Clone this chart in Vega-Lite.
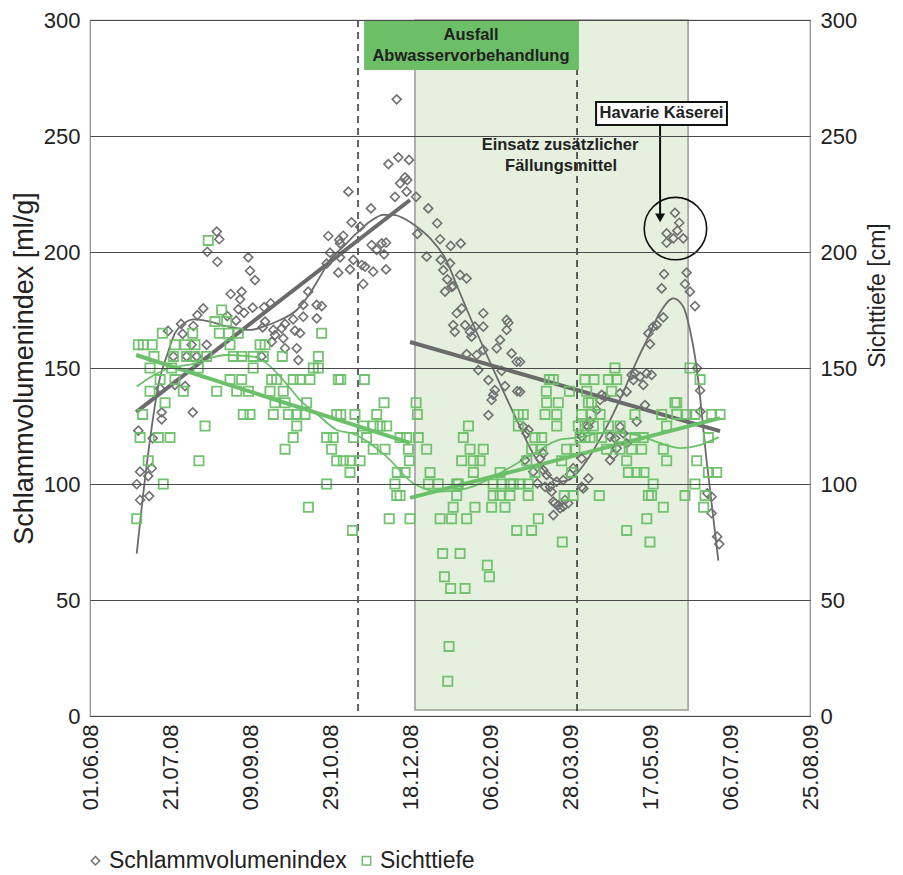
{
  "$schema": "https://vega.github.io/schema/vega-lite/v6.json",
  "width": 720,
  "height": 696,
  "autosize": "none",
  "padding": {"left": 90, "top": 20, "right": 93, "bottom": 159},
  "background": "white",
  "config": {
    "font": "Liberation Sans",
    "view": {"stroke": "#8a8a8a", "strokeWidth": 1.2},
    "axis": {"labelColor": "#222", "titleColor": "#222", "labelFontSize": 22, "titleFontSize": 23, "titleFontWeight": "normal", "ticks": false, "domain": false}
  },
  "datasets": {
    "svi": [
      {"d":29.2,"v":99.9},{"d":30.2,"v":123},{"d":31.3,"v":105.3},{"d":31.3,"v":93.1},{"d":36.4,"v":103.4},{"d":37,"v":94.8},{"d":38.6,"v":106.8},{"d":39.2,"v":119.7},{"d":43.8,"v":141.2},{"d":44.8,"v":130.9},{"d":44.8,"v":127.9},{"d":48.8,"v":166},{"d":52.1,"v":155},{"d":53.1,"v":142.7},{"d":56.9,"v":169},{"d":57.9,"v":164.7},{"d":59.4,"v":142.2},{"d":60.4,"v":155},{"d":63.5,"v":160},{"d":64.2,"v":130.9},{"d":64.6,"v":168.1},{"d":66.7,"v":155},{"d":67.1,"v":172.8},{"d":70.8,"v":175.7},{"d":72.9,"v":160},{"d":73.3,"v":200.1},{"d":79.2,"v":208.8},{"d":79.6,"v":195.8},{"d":80.8,"v":205.5},{"d":85.8,"v":172.4},{"d":87.9,"v":181.9},{"d":91.3,"v":170.4},{"d":92.7,"v":175.3},{"d":93.8,"v":179.6},{"d":94.8,"v":182.9},{"d":96.3,"v":173.8},{"d":98.9,"v":197.7},{"d":100,"v":191.9},{"d":101.7,"v":176},{"d":103.1,"v":187.9},{"d":107.3,"v":155},{"d":107.9,"v":167.5},{"d":108.8,"v":176.2},{"d":109.4,"v":170},{"d":112.9,"v":177.9},{"d":113.6,"v":161.3},{"d":114.6,"v":166.4},{"d":115.6,"v":164.2},{"d":119.8,"v":167.1},{"d":120.8,"v":162.8},{"d":121.9,"v":169},{"d":121.9,"v":158.5},{"d":127,"v":171},{"d":128.1,"v":166.1},{"d":129.2,"v":158.5},{"d":130.2,"v":153.4},{"d":131.3,"v":165},{"d":133.3,"v":177.2},{"d":133.3,"v":172.1},{"d":136.4,"v":182.9},{"d":141.7,"v":177.2},{"d":141.7,"v":171.4},{"d":144.8,"v":176.7},{"d":147.9,"v":195},{"d":148.9,"v":206.9},{"d":150,"v":199.7},{"d":155.2,"v":191.1},{"d":155.8,"v":205.2},{"d":156.3,"v":203.7},{"d":156.3,"v":197.7},{"d":158.3,"v":207},{"d":161.5,"v":226},{"d":162.5,"v":192.5},{"d":163.5,"v":212.8},{"d":164.6,"v":196.6},{"d":168.8,"v":210.9},{"d":169.8,"v":194.4},{"d":170.8,"v":186.2},{"d":171.9,"v":193.7},{"d":175.6,"v":218.8},{"d":176,"v":203},{"d":177,"v":191.5},{"d":179.2,"v":200.9},{"d":182.3,"v":203.7},{"d":183.8,"v":199},{"d":185,"v":204},{"d":185,"v":192.5},{"d":186.5,"v":237.9},{"d":190.6,"v":223.8},{"d":191.7,"v":265.8},{"d":192.7,"v":240.8},{"d":193.8,"v":229.6},{"d":196.9,"v":232.2},{"d":197.9,"v":226},{"d":198.3,"v":231},{"d":199.4,"v":239.7},{"d":203.8,"v":223.8},{"d":204.6,"v":207.8},{"d":210.4,"v":198},{"d":211.4,"v":218.8},{"d":217,"v":212.4},{"d":218.8,"v":205.5},{"d":219.2,"v":196.6},{"d":220.8,"v":192.2},{"d":221.9,"v":182.9},{"d":223.3,"v":188.2},{"d":225,"v":195.1},{"d":225.4,"v":202.6},{"d":226,"v":185},{"d":227,"v":185.3},{"d":227,"v":168.5},{"d":228,"v":165.6},{"d":229.2,"v":173.6},{"d":231.3,"v":190.1},{"d":231.7,"v":203.7},{"d":232.3,"v":175.7},{"d":234.4,"v":168.5},{"d":235.4,"v":188.6},{"d":235.4,"v":156},{"d":237.5,"v":165.6},{"d":238.5,"v":163.5},{"d":240.6,"v":167.8},{"d":241.7,"v":155.6},{"d":242.7,"v":149.1},{"d":245.8,"v":173.6},{"d":245.8,"v":167.8},{"d":245.8,"v":157.8},{"d":249,"v":144.8},{"d":249,"v":129.7},{"d":251,"v":136.2},{"d":252,"v":138.4},{"d":253,"v":140.5},{"d":254.2,"v":158.5},{"d":256.3,"v":162.1},{"d":257.3,"v":148.8},{"d":259.4,"v":142.2},{"d":260.4,"v":170.7},{"d":261.5,"v":169.5},{"d":260.4,"v":166.4},{"d":263.5,"v":156.3},{"d":266.7,"v":152.7},{"d":267,"v":140},{"d":268.8,"v":139.8},{"d":268.8,"v":152.7},{"d":270.8,"v":124.7},{"d":271.9,"v":110.3},{"d":272.9,"v":121.8},{"d":274,"v":123.3},{"d":277,"v":105.3},{"d":279.6,"v":100.3},{"d":281.3,"v":111},{"d":283.3,"v":113.2},{"d":283.3,"v":106},{"d":284.4,"v":98.8},{"d":285.4,"v":103.9},{"d":287.5,"v":98.8},{"d":288.5,"v":96.7},{"d":289.6,"v":92.4},{"d":289.6,"v":86.6},{"d":290.6,"v":91.7},{"d":291.7,"v":101},{"d":292.7,"v":90.9},{"d":293.8,"v":89.5},{"d":295.8,"v":101.7},{"d":295.8,"v":90.2},{"d":296.9,"v":93.1},{"d":298.9,"v":91.7},{"d":300,"v":104.2},{"d":302,"v":106.8},{"d":307.3,"v":111},{"d":307.3,"v":120.4},{"d":307.3,"v":98.8},{"d":308.3,"v":98.1},{"d":310.4,"v":125.4},{"d":311.5,"v":102.4},{"d":311.5,"v":124.7},{"d":312.5,"v":126.9},{"d":316.7,"v":131.9},{"d":318.8,"v":136.2},{"d":319.8,"v":138.4},{"d":321.9,"v":137.6},{"d":325,"v":110.3},{"d":325,"v":120.4},{"d":327,"v":112.5},{"d":328.1,"v":119.7},{"d":329.2,"v":115.4},{"d":331.3,"v":124.7},{"d":331.3,"v":139.1},{"d":333.3,"v":121.8},{"d":335.4,"v":117.5},{"d":335.4,"v":139.8},{"d":338.5,"v":147},{"d":339.6,"v":144.8},{"d":340.6,"v":147.7},{"d":341.7,"v":126.9},{"d":343.8,"v":146.3},{"d":345.8,"v":142.7},{"d":346.9,"v":134},{"d":347.9,"v":147.7},{"d":349,"v":164.9},{"d":350,"v":160.3},{"d":351,"v":147},{"d":352,"v":167.8},{"d":354.2,"v":168.5},{"d":357.3,"v":184.3},{"d":358.3,"v":171.8},{"d":358.8,"v":190.5},{"d":360.4,"v":208},{"d":360.4,"v":204},{"d":364.6,"v":205.9},{"d":365.6,"v":216.9},{"d":367.1,"v":209.2},{"d":368.3,"v":212.6},{"d":370.8,"v":205.9},{"d":371.9,"v":186.2},{"d":372.9,"v":191.1},{"d":375,"v":182.9},{"d":378.1,"v":176.7},{"d":379.4,"v":149.9},{"d":381.3,"v":140.3},{"d":381.5,"v":131.2},{"d":385.8,"v":96},{"d":388.5,"v":94.5},{"d":388.5,"v":87.4},{"d":392,"v":77.3},{"d":393.3,"v":74.1}
    ],
    "st": [
      {"d":29.2,"v":85},{"d":30.2,"v":160},{"d":31.3,"v":120},{"d":32.9,"v":130},{"d":33.3,"v":160},{"d":36.4,"v":110},{"d":37.5,"v":150},{"d":37.5,"v":140},{"d":38.9,"v":160},{"d":40,"v":155},{"d":42.7,"v":120},{"d":43.8,"v":145},{"d":45.2,"v":165},{"d":45.8,"v":100},{"d":46.9,"v":135},{"d":50,"v":120},{"d":51,"v":150},{"d":52.1,"v":155},{"d":53.1,"v":160},{"d":53.1,"v":145},{"d":58.3,"v":140},{"d":59.4,"v":160},{"d":60.4,"v":155},{"d":64.2,"v":165},{"d":65.6,"v":160},{"d":65.6,"v":155},{"d":67.7,"v":150},{"d":68.1,"v":110},{"d":71.9,"v":125},{"d":72.9,"v":155},{"d":73.9,"v":205},{"d":78.1,"v":170},{"d":79.2,"v":140},{"d":80.8,"v":165},{"d":82.3,"v":175},{"d":85.4,"v":170},{"d":86.5,"v":165},{"d":87.5,"v":160},{"d":87.5,"v":145},{"d":89.6,"v":155},{"d":91.7,"v":140},{"d":92.7,"v":165},{"d":94.8,"v":155},{"d":94.8,"v":145},{"d":95.8,"v":130},{"d":99,"v":140},{"d":100,"v":130},{"d":102,"v":155},{"d":102,"v":150},{"d":106.3,"v":160},{"d":108.3,"v":155},{"d":109.4,"v":160},{"d":112.5,"v":140},{"d":113.5,"v":145},{"d":114.6,"v":130},{"d":115.6,"v":135},{"d":116.7,"v":145},{"d":120.2,"v":155},{"d":120.8,"v":140},{"d":121.9,"v":135},{"d":121.9,"v":115},{"d":124,"v":130},{"d":127,"v":145},{"d":127,"v":120},{"d":129.2,"v":130},{"d":129.2,"v":125},{"d":131.3,"v":145},{"d":134.4,"v":130},{"d":135.4,"v":135},{"d":136.5,"v":90},{"d":137.5,"v":145},{"d":139.6,"v":150},{"d":142.7,"v":155},{"d":142.7,"v":150},{"d":144.8,"v":165},{"d":147.9,"v":120},{"d":147.9,"v":100},{"d":151,"v":115},{"d":152,"v":120},{"d":154.2,"v":130},{"d":154.2,"v":110},{"d":155.2,"v":145},{"d":156.7,"v":145},{"d":156.7,"v":130},{"d":158.3,"v":110},{"d":162.5,"v":110},{"d":162.5,"v":105},{"d":164.6,"v":120},{"d":164,"v":80},{"d":165.6,"v":130},{"d":168.8,"v":110},{"d":170.8,"v":125},{"d":171.5,"v":145},{"d":172.9,"v":120},{"d":177,"v":125},{"d":177,"v":115},{"d":179.2,"v":130},{"d":181.3,"v":125},{"d":183.8,"v":135},{"d":184.4,"v":115},{"d":185.4,"v":125},{"d":187,"v":85},{"d":190.6,"v":100},{"d":191.7,"v":95},{"d":192,"v":105},{"d":193.8,"v":120},{"d":193.8,"v":95},{"d":196.9,"v":105},{"d":197.9,"v":120},{"d":199,"v":115},{"d":199.6,"v":110},{"d":200,"v":85},{"d":203.8,"v":135},{"d":204.6,"v":130},{"d":205.2,"v":120},{"d":210.4,"v":115},{"d":211.5,"v":100},{"d":212.5,"v":105},{"d":217.7,"v":100},{"d":218.8,"v":85},{"d":220.4,"v":70},{"d":221.5,"v":60},{"d":223.6,"v":15},{"d":224.4,"v":30},{"d":225.4,"v":55},{"d":226,"v":85},{"d":227,"v":90},{"d":229.2,"v":100},{"d":229.2,"v":95},{"d":230.2,"v":100},{"d":231.3,"v":70},{"d":232.3,"v":110},{"d":233.3,"v":120},{"d":234.4,"v":55},{"d":235.4,"v":85},{"d":236.5,"v":125},{"d":237.5,"v":115},{"d":239.6,"v":110},{"d":239.6,"v":105},{"d":240.6,"v":90},{"d":243.8,"v":110},{"d":245.8,"v":115},{"d":248.3,"v":65},{"d":249.6,"v":60},{"d":251,"v":90},{"d":252,"v":100},{"d":252,"v":95},{"d":256.3,"v":105},{"d":256.3,"v":95},{"d":257.3,"v":100},{"d":259.4,"v":90},{"d":262.5,"v":100},{"d":262.5,"v":95},{"d":264.6,"v":100},{"d":266.7,"v":80},{"d":267.7,"v":130},{"d":267.7,"v":125},{"d":268.8,"v":100},{"d":270.8,"v":130},{"d":273,"v":110},{"d":273.9,"v":100},{"d":273.9,"v":95},{"d":276,"v":115},{"d":276,"v":80},{"d":278.1,"v":120},{"d":278.1,"v":105},{"d":280.2,"v":85},{"d":282.3,"v":120},{"d":282.3,"v":115},{"d":284.4,"v":130},{"d":285.2,"v":140},{"d":285.4,"v":135},{"d":287.1,"v":145},{"d":289.6,"v":145},{"d":291.7,"v":125},{"d":291.7,"v":130},{"d":292.7,"v":135},{"d":294.8,"v":110},{"d":295.2,"v":75},{"d":296.4,"v":95},{"d":297.9,"v":115},{"d":299.6,"v":140},{"d":301,"v":105},{"d":302,"v":95},{"d":303.1,"v":115},{"d":305.2,"v":125},{"d":306.3,"v":120},{"d":307.3,"v":130},{"d":309.4,"v":145},{"d":309.4,"v":125},{"d":309.4,"v":120},{"d":310.4,"v":140},{"d":311.5,"v":135},{"d":312.5,"v":120},{"d":313.5,"v":135},{"d":313.5,"v":130},{"d":314.6,"v":125},{"d":315,"v":145},{"d":318.3,"v":95},{"d":318.8,"v":130},{"d":319.8,"v":120},{"d":322.9,"v":115},{"d":324,"v":145},{"d":324,"v":125},{"d":326,"v":140},{"d":328.1,"v":150},{"d":329.2,"v":145},{"d":331.3,"v":125},{"d":331.3,"v":120},{"d":331.3,"v":115},{"d":335.4,"v":110},{"d":335.4,"v":80},{"d":336.5,"v":105},{"d":338.5,"v":115},{"d":340.6,"v":130},{"d":340.6,"v":120},{"d":341.7,"v":105},{"d":344.8,"v":115},{"d":345.8,"v":120},{"d":346.3,"v":105},{"d":348,"v":85},{"d":349,"v":95},{"d":350,"v":75},{"d":351,"v":95},{"d":352,"v":100},{"d":357.3,"v":130},{"d":358.3,"v":115},{"d":358.3,"v":90},{"d":360.4,"v":125},{"d":360.4,"v":110},{"d":365.6,"v":135},{"d":366.7,"v":135},{"d":366.7,"v":130},{"d":371.9,"v":95},{"d":373,"v":130},{"d":375,"v":150},{"d":378,"v":130},{"d":378.1,"v":100},{"d":379.2,"v":110},{"d":381.3,"v":145},{"d":383.5,"v":90},{"d":384.4,"v":95},{"d":386.5,"v":120},{"d":386.5,"v":105},{"d":388.5,"v":130},{"d":391.7,"v":105},{"d":393.8,"v":130}
    ],
    "grayThin": [
      {"d":29.2,"v":70},{"d":35.4,"v":108},{"d":43.8,"v":146},{"d":47.9,"v":155},{"d":53.1,"v":165},{"d":58.3,"v":169},{"d":65,"v":171},{"d":75,"v":170},{"d":85,"v":168},{"d":93.8,"v":167},{"d":100,"v":166.4},{"d":108.3,"v":167.8},{"d":118.8,"v":170.7},{"d":129.2,"v":175},{"d":137.5,"v":182.2},{"d":143.8,"v":189.4},{"d":150,"v":196.6},{"d":158.3,"v":202.3},{"d":166.7,"v":208.1},{"d":175,"v":213.1},{"d":183.3,"v":216},{"d":189.6,"v":216},{"d":197.9,"v":213.8},{"d":204.2,"v":210.9},{"d":212.5,"v":206},{"d":223,"v":196},{"d":229,"v":186},{"d":240,"v":168},{"d":253,"v":148},{"d":266.7,"v":127.6},{"d":277,"v":113},{"d":287.5,"v":103},{"d":293.8,"v":101},{"d":300,"v":102},{"d":306,"v":106},{"d":315,"v":115},{"d":323,"v":124.7},{"d":331,"v":136},{"d":341.7,"v":153},{"d":348,"v":162},{"d":356,"v":173.6},{"d":364.6,"v":180},{"d":370.8,"v":176.4},{"d":375,"v":166.4},{"d":379,"v":151},{"d":385.4,"v":110},{"d":392.7,"v":67}
    ],
    "greenThin": [
      {"d":29.2,"v":142},{"d":40,"v":147},{"d":50,"v":150},{"d":58,"v":151},{"d":66.7,"v":152},{"d":75,"v":154.2},{"d":85.4,"v":155.6},{"d":102,"v":154.9},{"d":110.4,"v":152},{"d":120.8,"v":144.8},{"d":131.3,"v":136.2},{"d":143.8,"v":129},{"d":154.2,"v":123.3},{"d":164.6,"v":121.6},{"d":185,"v":112},{"d":202,"v":100.3},{"d":212,"v":97.4},{"d":218,"v":96.7},{"d":235,"v":98},{"d":256,"v":104.6},{"d":277,"v":113},{"d":293,"v":119},{"d":306,"v":120.2},{"d":320,"v":122},{"d":331,"v":122.3},{"d":346,"v":120.2},{"d":356,"v":117.7},{"d":369,"v":115.5},{"d":381,"v":116.8},{"d":393,"v":120.2}
    ],
    "grayThick": [
      {"k":1,"d":28.8,"v":131},{"k":1,"d":200,"v":222.4},{"k":2,"d":200,"v":161.2},{"k":2,"d":393.8,"v":122.8}
    ],
    "greenThick": [
      {"k":1,"d":28.8,"v":155.6},{"k":1,"d":200,"v":117.7},{"k":2,"d":200,"v":94},{"k":2,"d":393.8,"v":128.4}
    ]
  },
  "resolve": {"axis": {"y": "independent"}},
  "layer": [
    {
      "data": {"values": [{"d1":203.1,"d2":373.8,"v1":2.6,"v2":300}]},
      "mark": {"type": "rect", "fill": "#e5f0df", "stroke": "#999999", "strokeWidth": 1.5},
      "encoding": {
        "x": {"field": "d1", "type": "quantitative", "scale": {"domain": [0, 450], "nice": false, "zero": false},
          "axis": {"title": null, "values": [0,50,100,150,200,250,300,350,400,450], "labelExpr": "timeFormat(datetime(2008,5,1+datum.value),'%d.%m.%y')", "labelAngle": -90, "labelAlign": "right", "labelBaseline": "middle", "labelPadding": 8, "grid": false, "domain": true, "domainColor": "#333", "domainWidth": 1.2}},
        "x2": {"field": "d2"},
        "y": {"field": "v1", "type": "quantitative", "scale": {"domain": [0, 300], "nice": false},
          "axis": {"title": "Schlammvolumenindex [ml/g]", "titleFontSize": 27, "values": [0,50,100,150,200,250,300], "grid": true, "gridColor": "#4a4a4a", "gridWidth": 1, "zindex": 1, "labelPadding": 10, "titlePadding": 5}},
        "y2": {"field": "v2"}
      }
    },
    {
      "data": {"values": [{"x": 167.5}, {"x": 304.4}]},
      "mark": {"type": "rule", "color": "#111", "strokeWidth": 1.3, "strokeDash": [7, 5]},
      "encoding": {"x": {"field": "x", "type": "quantitative"}}
    },
    {
      "data": {"values": [{"d1":171.3,"d2":305.6,"v1":278.4,"v2":300}]},
      "mark": {"type": "rect", "fill": "#6cbf67"},
      "encoding": {"x": {"field": "d1", "type": "quantitative"}, "x2": {"field": "d2"}, "y": {"field": "v1", "type": "quantitative", "axis": null}, "y2": {"field": "v2"}}
    },
    {
      "data": {"name": "grayThin"},
      "mark": {"type": "line", "color": "#6b6b6b", "strokeWidth": 1.8, "interpolate": "monotone"},
      "encoding": {"x": {"field": "d", "type": "quantitative"}, "y": {"field": "v", "type": "quantitative", "axis": null}}
    },
    {
      "data": {"name": "greenThin"},
      "mark": {"type": "line", "color": "#6cc06a", "strokeWidth": 1.8, "interpolate": "monotone"},
      "encoding": {"x": {"field": "d", "type": "quantitative"}, "y": {"field": "v", "type": "quantitative", "axis": null}}
    },
    {
      "data": {"name": "grayThick"},
      "mark": {"type": "line", "color": "#6b6b6b", "strokeWidth": 4},
      "encoding": {"x": {"field": "d", "type": "quantitative"}, "y": {"field": "v", "type": "quantitative", "axis": null}, "detail": {"field": "k"}}
    },
    {
      "data": {"name": "greenThick"},
      "mark": {"type": "line", "color": "#6cc06a", "strokeWidth": 4},
      "encoding": {"x": {"field": "d", "type": "quantitative"}, "y": {"field": "v", "type": "quantitative", "axis": null}, "detail": {"field": "k"}}
    },
    {
      "data": {"name": "svi"},
      "mark": {"type": "point", "filled": false, "strokeWidth": 1.6, "size": 80, "opacity": 1},
      "encoding": {
        "x": {"field": "d", "type": "quantitative"},
        "y": {"field": "v", "type": "quantitative", "axis": null},
        "color": {"datum": "Schlammvolumenindex", "scale": {"domain": ["Schlammvolumenindex", "Sichttiefe"], "range": ["#707070", "#6cc06a"]},
          "legend": {"title": null, "orient": "none", "legendX": -6, "legendY": 829, "direction": "horizontal", "labelFontSize": 23, "labelLimit": 0, "labelColor": "#222", "symbolSize": 70, "symbolStrokeWidth": 1.5, "columnPadding": 8, "labelOffset": 2}},
        "shape": {"datum": "Schlammvolumenindex", "scale": {"domain": ["Schlammvolumenindex", "Sichttiefe"], "range": ["diamond", "square"]}}
      }
    },
    {
      "data": {"name": "st"},
      "mark": {"type": "point", "filled": false, "strokeWidth": 1.8, "size": 85, "opacity": 0.95},
      "encoding": {
        "x": {"field": "d", "type": "quantitative"},
        "y": {"field": "v", "type": "quantitative", "axis": {"orient": "right", "title": "Sichttiefe [cm]", "titleAngle": -90, "titleBaseline": "top", "titleAlign": "center", "titleY": 275, "values": [0,50,100,150,200,250,300], "grid": false, "labelPadding": 10, "titlePadding": 10}},
        "color": {"datum": "Sichttiefe"},
        "shape": {"datum": "Sichttiefe"}
      }
    },
    {
      "data": {"values": [{"d1":316.3,"d2":398.1,"v1":254.7,"v2":264.7}]},
      "mark": {"type": "rect", "fill": "white", "stroke": "#111", "strokeWidth": 2},
      "encoding": {"x": {"field": "d1", "type": "quantitative"}, "x2": {"field": "d2"}, "y": {"field": "v1", "type": "quantitative", "axis": null}, "y2": {"field": "v2"}}
    },
    {
      "data": {"values": [{"d":356.3,"v1":216,"v2":254.7}]},
      "mark": {"type": "rule", "color": "#111", "strokeWidth": 2},
      "encoding": {"x": {"field": "d", "type": "quantitative"}, "y": {"field": "v1", "type": "quantitative", "axis": null}, "y2": {"field": "v2"}}
    },
    {
      "data": {"values": [{"d":356.3,"v":214.7}]},
      "mark": {"type": "point", "shape": "triangle-down", "filled": true, "color": "#111", "size": 100, "opacity": 1},
      "encoding": {"x": {"field": "d", "type": "quantitative"}, "y": {"field": "v", "type": "quantitative", "axis": null}}
    },
    {
      "data": {"values": [{"d":365.9,"v":210.1}]},
      "mark": {"type": "point", "shape": "circle", "filled": false, "color": "#111", "strokeWidth": 1.6, "size": 3900, "opacity": 1},
      "encoding": {"x": {"field": "d", "type": "quantitative"}, "y": {"field": "v", "type": "quantitative", "axis": null}}
    },
    {
      "data": {"values": [
        {"d":238.1,"v":293.5,"t":"Ausfall"},
        {"d":238.1,"v":284.5,"t":"Abwasservorbehandlung"},
        {"d":293.8,"v":246.1,"t":"Einsatz zusätzlicher"},
        {"d":294.4,"v":237.1,"t":"Fällungsmittel"},
        {"d":357.2,"v":259.9,"t":"Havarie Käserei"}
      ]},
      "mark": {"type": "text", "fontWeight": "bold", "fontSize": 16.5, "color": "#222", "align": "center", "baseline": "middle"},
      "encoding": {"x": {"field": "d", "type": "quantitative"}, "y": {"field": "v", "type": "quantitative", "axis": null}, "text": {"field": "t"}}
    }
  ]
}
